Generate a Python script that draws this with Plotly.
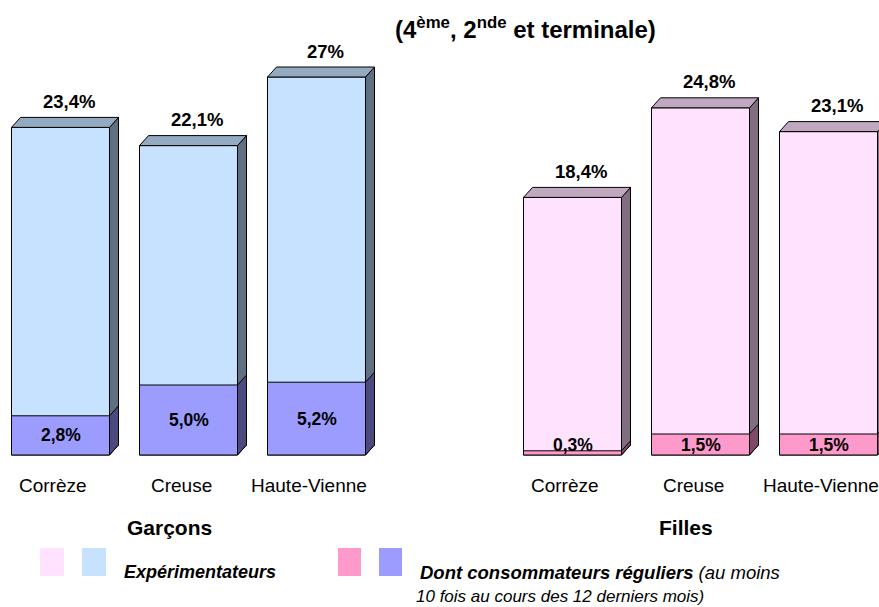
import plotly.graph_objects as go

# Data: percentage of pupils (4ème, 2nde, terminale)
departements = ["Corrèze", "Creuse", "Haute-Vienne"]
garcons_exp = [23.4, 22.1, 27]
garcons_reg = [2.8, 5.0, 5.2]
filles_exp = [18.4, 24.8, 23.1]
filles_reg = [0.3, 1.5, 1.5]

W, H = 879, 607
PX_PER_UNIT = 14.0          # vertical pixels per percent
SLOT = 128.0                # horizontal pixels per category slot
X0_PIX = 60.5               # pixel centre of first slot
BASE_PIX = 455.0            # pixel row of the baseline
BAR_W = 98.0 / SLOT
DX = 9.0 / SLOT             # 3D depth offset (x)
DY = 10.0 / PX_PER_UNIT     # 3D depth offset (y)

x_range = [-X0_PIX / SLOT, (W - X0_PIX) / SLOT]
y_range = [(BASE_PIX - H) / PX_PER_UNIT, BASE_PIX / PX_PER_UNIT]

FONT = "Arial, Liberation Sans, sans-serif"

groups = [
    dict(pos=[0, 1, 2], exp=garcons_exp, reg=garcons_reg,
         front="#c6e2fe", top="#94aac0", side="#607080",
         reg_front="#9c9cfe", reg_side="#4a4a7e", name="Garçons"),
    dict(pos=[4, 5, 6], exp=filles_exp, reg=filles_reg,
         front="#fee2fe", top="#c0a8c0", side="#80707f",
         reg_front="#fe99cc", reg_side="#7e4a66", name="Filles"),
]


def fmt(v):
    if isinstance(v, int):
        return f"{v}%"
    return f"{v:.1f}".replace(".", ",") + "%"


def poly(pts):
    return "M " + " L ".join(f"{x},{y}" for x, y in pts) + " Z"


fig = go.Figure()
shapes = []
annotations = []

for g in groups:
    fig.add_trace(go.Bar(x=g["pos"], y=g["exp"], width=BAR_W,
                         marker=dict(color=g["front"], line=dict(color="black", width=1)),
                         showlegend=False, hoverinfo="skip"))
    fig.add_trace(go.Bar(x=g["pos"], y=g["reg"], width=BAR_W,
                         marker=dict(color=g["reg_front"], line=dict(color="black", width=1)),
                         showlegend=False, hoverinfo="skip"))
    for p, e, r in zip(g["pos"], g["exp"], g["reg"]):
        xl, xr = p - BAR_W / 2, p + BAR_W / 2
        # side face of the whole bar
        shapes.append(dict(type="path", xref="x", yref="y", layer="above",
                           path=poly([(xr, 0), (xr + DX, DY), (xr + DX, e + DY), (xr, e)]),
                           fillcolor=g["side"], line=dict(color="black", width=1)))
        # side face of the regular-consumer part
        shapes.append(dict(type="path", xref="x", yref="y", layer="above",
                           path=poly([(xr, 0), (xr + DX, DY), (xr + DX, r + DY), (xr, r)]),
                           fillcolor=g["reg_side"], line=dict(color="black", width=1)))
        # top face
        shapes.append(dict(type="path", xref="x", yref="y", layer="above",
                           path=poly([(xl, e), (xr, e), (xr + DX, e + DY), (xl + DX, e + DY)]),
                           fillcolor=g["top"], line=dict(color="black", width=1)))
        annotations.append(dict(x=p + 0.07, y=e, xref="x", yref="y", yshift=26,
                                xanchor="center", yanchor="middle",
                                text=f"<b>{fmt(e)}</b>", showarrow=False,
                                font=dict(size=18.5, color="black", family=FONT)))
        annotations.append(dict(x=p, y=max(r / 2, 0.75), xref="x", yref="y",
                                xanchor="center", yanchor="middle",
                                text=f"<b>{fmt(r)}</b>", showarrow=False,
                                font=dict(size=17.5, color="black", family=FONT)))
    for p, d in zip(g["pos"], departements):
        annotations.append(dict(x=p - 0.055, y=(BASE_PIX - 485) / PX_PER_UNIT,
                                xref="x", yref="y", xanchor="center", yanchor="middle",
                                text=d, showarrow=False,
                                font=dict(size=19, color="black", family=FONT)))


def px(x):
    return x / W


def py(y):
    return 1 - y / H


def label(x, y, text, size, anchor="center"):
    annotations.append(dict(x=px(x), y=py(y), xref="paper", yref="paper",
                            xanchor=anchor, yanchor="middle", text=text,
                            showarrow=False,
                            font=dict(size=size, color="black", family=FONT)))


# Title
label(525, 28, "<b>(4<sup>ème</sup>, 2<sup>nde</sup> et terminale)</b>", 24)
# Group names
label(169, 527, "<b>Garçons</b>", 21)
label(686, 527, "<b>Filles</b>", 21)

# Legend swatches
for (x0, x1), col in [((40, 64), "#fee2fe"), ((82, 106), "#c6e2fe"),
                      ((338, 361), "#fe99cc"), ((379, 402), "#9c9cfe")]:
    shapes.append(dict(type="rect", xref="paper", yref="paper",
                       x0=px(x0), x1=px(x1), y0=py(576), y1=py(548),
                       fillcolor=col, line=dict(width=0)))

label(122, 572, "<b><i>Expérimentateurs</i></b>", 18, "left")
label(418, 572, "<b><i>Dont consommateurs réguliers</i></b><i> (au moins</i>", 18.5, "left")
label(414, 596, "<i>10 fois au cours des 12 derniers mois)</i>", 17, "left")

fig.update_layout(
    width=W, height=H,
    margin=dict(l=0, r=0, t=0, b=0),
    paper_bgcolor="white", plot_bgcolor="white",
    barmode="overlay",
    xaxis=dict(range=x_range, visible=False, fixedrange=True),
    yaxis=dict(range=y_range, visible=False, fixedrange=True),
    shapes=shapes, annotations=annotations,
    showlegend=False,
)

fig.write_html("out.html")
